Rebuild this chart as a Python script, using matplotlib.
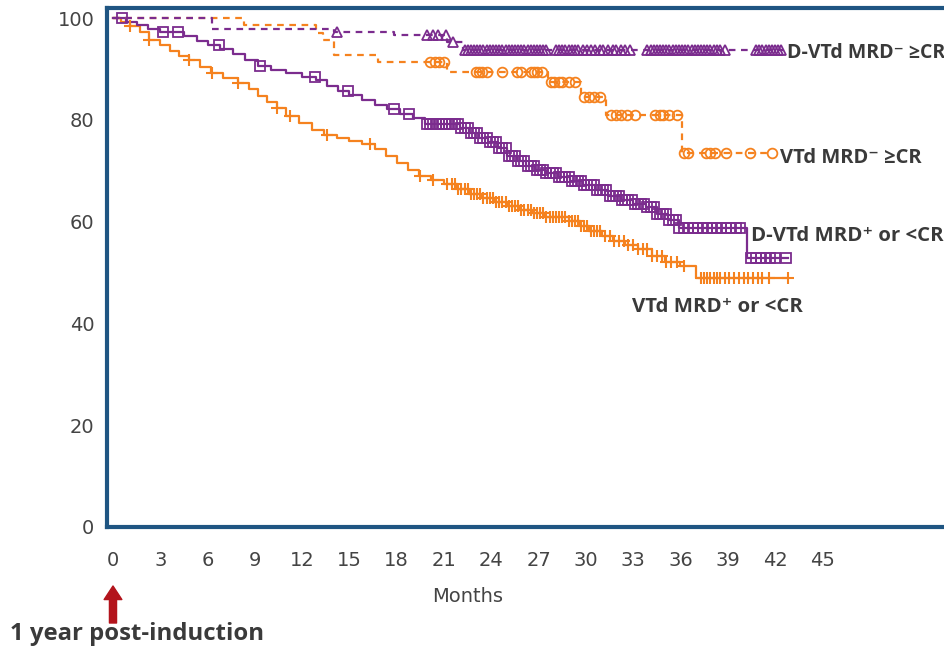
import numpy as np
import matplotlib
matplotlib.use("Agg")
import matplotlib.pyplot as plt

# D-VTd MRD- >=CR (step times / survival %, censor times)
dvtd_neg_t = [0, 6.3, 14.0, 17.8, 21.2, 22.2]
dvtd_neg_s = [100, 97.9, 97.2, 96.7, 95.3, 93.8]
dvtd_neg_end = 42.5
dvtd_neg_cens = [14.2, 19.9, 20.3, 20.6, 21.1, 21.6,
                 22.3, 22.5, 22.7, 22.9, 23.1, 23.3, 23.5, 23.7, 23.9, 24.1, 24.3, 24.5,
                 24.7, 24.9, 25.1, 25.3, 25.5, 25.7, 25.9, 26.1, 26.3, 26.5, 26.7, 26.9,
                 27.1, 27.3, 27.5, 28.1, 28.3, 28.5, 28.7, 28.9, 29.1, 29.3, 29.5,
                 29.8, 30.1, 30.3, 30.6, 30.9, 31.1, 31.4, 31.7, 31.9, 32.2, 32.5, 32.8,
                 33.9, 34.1, 34.3, 34.5, 34.7, 34.9, 35.1, 35.3, 35.5, 35.7, 35.9, 36.1,
                 36.3, 36.5, 36.7, 36.9, 37.1, 37.3, 37.5, 37.7, 37.9, 38.1, 38.3, 38.5,
                 38.8, 40.8, 41.0, 41.2, 41.4, 41.6, 41.8, 42.0, 42.2, 42.4]

# VTd MRD- >=CR
vtd_neg_t = [0, 8.3, 12.9, 13.3, 14.0, 16.8, 21.2, 27.6, 29.7, 31.3, 36.1]
vtd_neg_s = [100, 98.6, 97.0, 95.7, 92.7, 91.4, 89.4, 87.4, 84.5, 80.9, 73.5]
vtd_neg_end = 41.8
vtd_neg_cens = [20.1, 20.4, 20.7, 21.0, 23.0, 23.2, 23.4, 23.7, 24.7, 25.6, 25.9, 26.5,
                26.7, 26.9, 27.2, 27.8, 28.0, 28.3, 28.5, 28.9, 29.3, 29.9, 30.2, 30.5,
                30.9, 31.6, 31.9, 32.2, 32.6, 33.1, 34.4, 34.7, 34.9, 35.3, 35.8, 36.2,
                36.5, 37.6, 37.9, 38.2, 38.9, 40.4, 41.8]

# D-VTd MRD+ or <CR
dvtd_pos_t = [0, 0.8, 1.5, 2.2, 3.0, 4.5, 5.3, 6.0, 6.8, 7.6, 8.4, 9.2, 10.0, 11.0, 12.0,
              12.9, 13.6, 14.3, 15.0, 15.8, 16.6, 17.4, 18.2, 19.0, 19.8, 22.0, 22.6,
              23.2, 23.8, 24.4, 25.0, 25.6, 26.2, 26.8, 27.5, 28.2, 29.0, 29.8, 30.6,
              31.4, 32.2, 33.0, 33.8, 34.5, 35.2, 35.9, 40.2]
dvtd_pos_s = [100, 99.3, 98.6, 97.9, 97.2, 96.4, 95.6, 94.8, 94.0, 93.0, 91.8, 90.6, 89.9,
              89.2, 88.5, 87.8, 86.7, 85.7, 84.9, 84.0, 83.0, 82.1, 81.2, 80.4, 79.2,
              78.4, 77.5, 76.5, 75.6, 74.5, 73.0, 72.0, 71.0, 70.2, 69.5, 68.8, 68.0,
              67.3, 66.2, 65.1, 64.3, 63.5, 62.8, 61.6, 60.3, 58.7, 52.8]
dvtd_pos_end = 42.8
dvtd_pos_cens = [0.6, 3.2, 4.1, 6.7, 9.3, 12.8, 14.9, 17.8, 18.8,
                 19.9, 20.1, 20.3, 20.5, 20.7, 20.9, 21.1, 21.3, 21.5, 21.7, 21.9, 22.1,
                 22.3, 22.5, 22.7, 22.9, 23.1, 23.3, 23.5, 23.7, 23.9, 24.1, 24.3, 24.5,
                 24.7, 24.9, 25.1, 25.3, 25.5, 25.7, 25.9, 26.1, 26.3, 26.5, 26.7, 26.9,
                 27.1, 27.3, 27.5, 27.7, 27.9, 28.1, 28.3, 28.5, 28.7, 28.9, 29.1, 29.3,
                 29.5, 29.7, 29.9, 30.1, 30.3, 30.5, 30.7, 30.9, 31.1, 31.3, 31.5, 31.7,
                 31.9, 32.1, 32.3, 32.5, 32.7, 32.9, 33.1, 33.3, 33.5, 33.7, 33.9, 34.1,
                 34.3, 34.5, 34.7, 34.9, 35.1, 35.3, 35.5, 35.7, 35.9, 36.2, 36.5, 36.8,
                 37.1, 37.4, 37.7, 38.0, 38.3, 38.6, 38.9, 39.2, 39.5, 39.8, 40.5, 40.8,
                 41.1, 41.4, 41.7, 42.0, 42.7]

# VTd MRD+ or <CR
vtd_pos_t = [0, 0.5, 1.1, 1.7, 2.3, 3.0, 3.6, 4.2, 4.8, 5.5, 6.2, 7.0, 7.9, 8.6, 9.2,
             9.8, 10.4, 11.0, 11.8, 12.6, 13.4, 14.2, 15.0, 15.8, 16.6, 17.3, 18.0, 18.7,
             19.4, 20.2, 21.0, 21.8, 22.6, 23.4, 24.2, 25.0, 25.8, 26.6, 27.4, 28.9,
             29.6, 30.2, 31.0, 31.7, 32.5, 33.3, 34.2, 35.0, 36.0, 37.0]
vtd_pos_s = [100, 99.2, 98.5, 97.2, 95.8, 94.7, 93.6, 92.6, 91.7, 90.4, 89.2, 88.2, 87.3,
             86.0, 84.7, 83.6, 82.3, 80.8, 79.4, 78.0, 77.0, 76.4, 75.9, 75.2, 74.3,
             73.0, 71.5, 70.2, 69.0, 68.2, 67.5, 66.5, 65.5, 64.6, 63.9, 63.0, 62.3,
             61.7, 61.0, 60.2, 59.2, 58.2, 57.2, 56.2, 55.5, 54.7, 53.2, 52.1, 51.3, 48.9]
vtd_pos_end = 42.8
vtd_pos_cens = [1.1, 2.3, 4.8, 6.3, 7.9, 10.4, 11.2, 13.6, 16.3, 19.5, 20.3, 21.2,
                21.5, 21.7, 21.9, 22.1, 22.3, 22.5, 22.7, 22.9, 23.1, 23.3, 23.5, 23.7,
                23.9, 24.1, 24.3, 24.5, 24.7, 24.9, 25.1, 25.3, 25.5, 25.7, 25.9, 26.1,
                26.3, 26.5, 26.7, 26.9, 27.1, 27.3, 27.5, 27.7, 27.9, 28.1, 28.3, 28.5,
                28.7, 28.9, 29.1, 29.3, 29.5, 29.7, 29.9, 30.1, 30.3, 30.5, 30.7, 30.9,
                31.2, 31.5, 31.8, 32.1, 32.4, 32.7, 33.0, 33.3, 33.6, 33.9, 34.2, 34.5,
                34.8, 35.1, 35.4, 35.8, 36.2, 37.3, 37.5, 37.7, 37.9, 38.1, 38.3, 38.5,
                38.8, 39.1, 39.4, 39.7, 40.0, 40.3, 40.6, 40.9, 41.2, 41.6, 42.8]

x_ticks = [0, 3, 6, 9, 12, 15, 18, 21, 24, 27, 30, 33, 36, 39, 42, 45]
y_ticks = [0, 20, 40, 60, 80, 100]

PURPLE = '#7B2C8E'
ORANGE = '#F5821F'
FRAME = '#1F5582'
TXT = '#3a3a3a'
LBL = ['Open Sans', 'DejaVu Sans']

fig = plt.figure(figsize=(9.45, 6.49), dpi=100)
ax = fig.add_axes([107 / 945, 1 - 527 / 649, 873 / 945, 519 / 649])


def km(t, s, t_end, cens, color, ls, marker, ms, mew):
    xs = list(t) + [t_end]
    ys = list(s) + [s[-1]]
    ax.step(xs, ys, where='post', color=color, ls=ls, lw=1.6, zorder=3)
    idx = np.searchsorted(np.array(t), np.array(cens), side='right') - 1
    ax.plot(cens, np.array(s)[idx], ls='none', marker=marker, ms=ms, mfc='none',
            mec=color, mew=mew, zorder=4)


km(vtd_pos_t, vtd_pos_s, vtd_pos_end, vtd_pos_cens, ORANGE, '-', '+', 9, 1.5)
km(dvtd_pos_t, dvtd_pos_s, dvtd_pos_end, dvtd_pos_cens, PURPLE, '-', 's', 7, 1.3)
km(vtd_neg_t, vtd_neg_s, vtd_neg_end, vtd_neg_cens, ORANGE, (0, (3, 2.5)), 'o', 7, 1.3)
km(dvtd_neg_t, dvtd_neg_s, dvtd_neg_end, dvtd_neg_cens, PURPLE, (0, (3, 2.5)), '^', 7, 1.3)

ax.set_xlim(-0.38, 55)
ax.set_ylim(0, 102)
ax.set_xticks(x_ticks)
ax.set_yticks(y_ticks)
ax.tick_params(axis='both', length=0, labelsize=14, labelcolor='#444444')
ax.tick_params(axis='x', pad=17)
ax.tick_params(axis='y', pad=9)
for sp in ax.spines.values():
    sp.set_color(FRAME)
    sp.set_linewidth(3)

# curve labels
lab_kw = dict(fontweight='bold', color=TXT, family=LBL, va='center', ha='left')
ax.text(42.77, 93.1, 'D-VTd MRD\u207b \u2265CR', fontsize=14.0, **lab_kw)
ax.text(42.3, 72.5, 'VTd MRD\u207b \u2265CR', fontsize=14.5, **lab_kw)
ax.text(40.5, 57.2, 'D-VTd MRD\u207a or <CR', fontsize=14.7, **lab_kw)
ax.text(32.9, 43.2, 'VTd MRD\u207a or <CR', fontsize=14.7, **lab_kw)

# x axis title
fig.text(468 / 945, 1 - 597 / 649, 'Months', fontsize=14, color='#444444',
         ha='center', va='center')

# red arrow and note
ax.annotate('', xy=(0, 1 - 586 / 649), xytext=(0, 1 - 623 / 649),
            xycoords=('data', 'figure fraction'), textcoords=('data', 'figure fraction'),
            arrowprops=dict(arrowstyle='simple,head_length=0.65,head_width=0.85,tail_width=0.34',
                            color='#B3141C', mutation_scale=15, shrinkA=0, shrinkB=0),
            annotation_clip=False)
fig.text(10 / 945, 1 - 634 / 649, '1 year post-induction', fontsize=17.2,
         fontweight='bold', color=TXT, family=LBL, ha='left', va='center')

fig.savefig('out.png', dpi=100)
